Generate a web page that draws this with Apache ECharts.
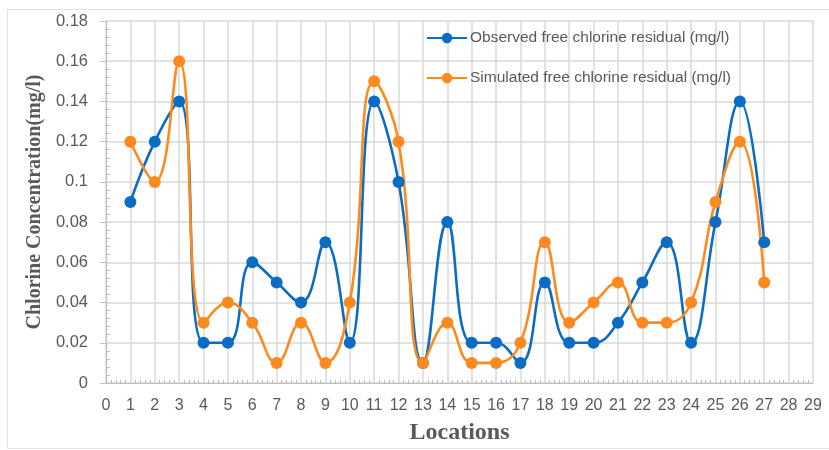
<!DOCTYPE html>
<html>
<head>
<meta charset="utf-8">
<script src="https://cdn.jsdelivr.net/npm/echarts@6/dist/echarts.min.js"></script>
<style>
  html, body { margin: 0; padding: 0; background: #ffffff; }
  #chart { width: 829px; height: 450px; }
</style>
</head>
<body>
<div id="chart"></div>
<script>
// Sampling locations 1..27
const locations = [1, 2, 3, 4, 5, 6, 7, 8, 9, 10, 11, 12, 13, 14, 15, 16, 17, 18, 19, 20, 21, 22, 23, 24, 25, 26, 27];

// Free chlorine residual, mg/l
const observed = [0.09, 0.12, 0.14, 0.02, 0.02, 0.06, 0.05, 0.04, 0.07, 0.02, 0.14, 0.10, 0.01, 0.08,
                  0.02, 0.02, 0.01, 0.05, 0.02, 0.02, 0.03, 0.05, 0.07, 0.02, 0.08, 0.14, 0.07];
const simulated = [0.12, 0.10, 0.16, 0.03, 0.04, 0.03, 0.01, 0.03, 0.01, 0.04, 0.15, 0.12, 0.01, 0.03,
                   0.01, 0.01, 0.02, 0.07, 0.03, 0.04, 0.05, 0.03, 0.03, 0.04, 0.09, 0.12, 0.05];

const seriesNames = ['Observed free chlorine residual (mg/l)', 'Simulated free chlorine residual (mg/l)'];
const axisNames = { x: 'Locations', y: 'Chlorine Concentration(mg/l)' };

const BLUE = '#0b6cc4';
const ORANGE = '#fd8a1e';
const GRID = '#d9d9d9';
const TEXT = '#595959';
const SANS = '"Liberation Sans", Arial, sans-serif';
const SERIF = '"Liberation Serif", "Times New Roman", serif';

const pairs = arr => locations.map((x, i) => [x, arr[i]]);

function lineSeries(name, values, color) {
  return {
    name: name,
    type: 'line',
    data: pairs(values),
    smooth: 0.45,
    symbol: 'circle',
    symbolSize: 12,
    lineStyle: { color: color, width: 2.6 },
    itemStyle: { color: color },
    emphasis: { disabled: true },
    animation: false
  };
}

const chart = echarts.init(document.getElementById('chart'), null, { renderer: 'canvas' });

chart.setOption({
  backgroundColor: '#ffffff',
  animation: false,
  graphic: [{
    type: 'rect',
    shape: { x: 7.5, y: 9.5, width: 840, height: 439 },
    style: { fill: 'none', stroke: '#e2e2e2', lineWidth: 1 },
    silent: true,
    z: -10
  }],
  grid: { left: 106, top: 21, right: 16, bottom: 67, containLabel: false },
  legend: {
    orient: 'vertical',
    left: 421,
    top: 25,
    itemWidth: 40,
    itemHeight: 13,
    itemGap: 24,
    textStyle: { color: TEXT, fontSize: 15.5, fontFamily: SANS, padding: [0, 0, 0, -2] },
    data: seriesNames
  },
  xAxis: {
    type: 'value',
    min: 0,
    max: 29,
    interval: 1,
    name: axisNames.x,
    nameLocation: 'middle',
    nameGap: 38,
    nameTextStyle: { color: TEXT, fontSize: 24, fontWeight: 'bold', fontFamily: SERIF },
    axisLine: { show: true, lineStyle: { color: '#bfbfbf', width: 1.2 } },
    axisTick: { show: false, inside: true },
    minorTick: { show: true, splitNumber: 5, length: 3, lineStyle: { color: '#bfbfbf' } },
    axisLabel: { color: TEXT, fontSize: 16, fontFamily: SANS, margin: 15 },
    splitLine: { show: true, lineStyle: { color: GRID, width: 1.5 } }
  },
  yAxis: [{
    type: 'value',
    min: 0,
    max: 0.18,
    interval: 0.02,
    name: axisNames.y,
    nameLocation: 'middle',
    nameGap: 55,
    nameTextStyle: { color: TEXT, fontSize: 20, fontWeight: 'bold', fontFamily: SERIF },
    axisLine: { show: true, lineStyle: { color: '#bfbfbf', width: 1.2 } },
    axisTick: { show: true, length: 6, lineStyle: { color: '#bfbfbf' } },
    axisLabel: { color: TEXT, fontSize: 16.5, fontFamily: SANS, margin: 18 },
    splitLine: { show: true, lineStyle: { color: GRID, width: 1.5 } }
  }, {
    // companion axis carrying the inward minor ticks
    type: 'value',
    position: 'left',
    offset: 0,
    min: 0,
    max: 0.18,
    interval: 0.02,
    axisLine: { show: false },
    axisTick: { show: false, inside: true },
    minorTick: { show: true, splitNumber: 5, length: 4, lineStyle: { color: '#bfbfbf' } },
    axisLabel: { show: false },
    splitLine: { show: false }
  }],
  series: [
    lineSeries(seriesNames[0], observed, BLUE),
    lineSeries(seriesNames[1], simulated, ORANGE)
  ]
});
</script>
</body>
</html>
